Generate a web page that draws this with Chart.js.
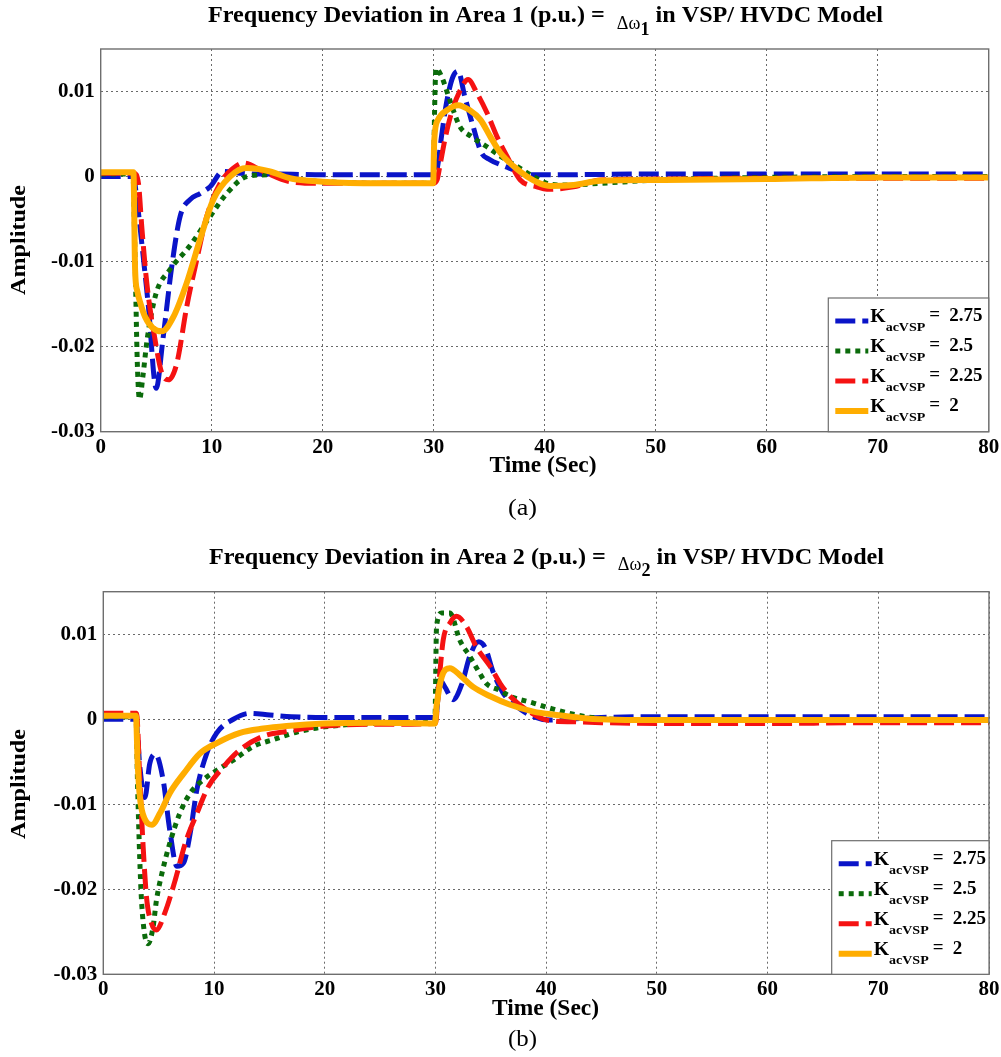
<!DOCTYPE html>
<html><head><meta charset="utf-8">
<script src="https://cdn.jsdelivr.net/npm/chart.js@4.4.1/dist/chart.umd.min.js"></script>
<style>
html,body{margin:0;padding:0;background:#fff;}
#wrap{position:relative;width:1001px;height:1057px;overflow:hidden;background:#fff;}
.box{position:absolute;left:0;width:1001px;}
</style></head><body>
<div id="wrap">
<div class="box" style="top:0;height:532px"><canvas id="chartA"></canvas></div>
<div class="box" style="top:532px;height:525px"><canvas id="chartB"></canvas></div>
</div>
<script>
// ---------------- data ----------------
const xTicks = [0, 10, 20, 30, 40, 50, 60, 70, 80];
const yTicks = [-0.03, -0.02, -0.01, 0, 0.01];
const yTickLabels = ['-0.03', '-0.02', '-0.01', '0', '0.01'];
const gainLabels = ['2.75', '2.5', '2.25', '2'];

// Area 1 (a)
const a1Time275 = [0, 2.95, 3.2, 3.54, 4.3, 5.0, 5.6, 6.4, 7.15, 8.05, 8.95, 9.85, 11.0, 12.5, 14, 16, 20, 25, 30.15, 30.4, 30.7, 31.2, 31.75, 32.2, 32.8, 33.55, 34.3, 35.05, 36, 37.2, 38.4, 40, 50, 60, 70, 80];
const a1Amp275  = [0, 0, -0.002, -0.0059, -0.0153, -0.0249, -0.0192, -0.0106, -0.0047, -0.0027, -0.002, -0.0012, 0.0006, 0.0004, 0.0003, 0.0003, 0.0002, 0.0002, 0.0002, 0.0016, 0.0047, 0.009, 0.0118, 0.0124, 0.0094, 0.0059, 0.0028, 0.002, 0.0014, 0.0008, 0.0002, 0.0002, 0.0003, 0.0003, 0.0003, 0.0003];
const a1Time25 = [0, 2.9, 3.1, 3.3, 3.5, 3.8, 4.2, 5.0, 6.2, 8.0, 9.85, 11.35, 13.15, 15, 18, 22, 26, 29.95, 30.1, 30.2, 30.7, 31.45, 32.35, 33.4, 34.8, 36, 37.5, 39, 40.5, 42, 45, 50, 55, 60, 70, 80];
const a1Amp25  = [0.0003, 0.0003, -0.01, -0.022, -0.0262, -0.0235, -0.019, -0.0137, -0.011, -0.0082, -0.0047, -0.002, 0, 0.0002, -0.0004, -0.0007, -0.0008, -0.0008, 0.009, 0.0127, 0.0118, 0.009, 0.0059, 0.0047, 0.0035, 0.0024, 0.0012, 0, -0.0009, -0.001, -0.0008, -0.0004, -0.0002, -0.0001, 0, 0];
const a1Time225 = [0, 3.0, 3.4, 3.7, 4.15, 4.9, 5.5, 6.1, 6.85, 7.75, 8.65, 9.55, 10.75, 11.95, 12.85, 14.65, 17.05, 20, 25, 29.95, 30.3, 30.55, 31.0, 31.6, 32.4, 33.1, 33.9, 34.8, 35.7, 36.6, 37.8, 39.3, 40.2, 42.6, 45, 50, 60, 70, 80];
const a1Amp225  = [0.0004, 0.0004, -0.0008, -0.0059, -0.0125, -0.0192, -0.0231, -0.0239, -0.022, -0.0153, -0.0098, -0.0047, -0.0008, 0.001, 0.0016, 0.0006, -0.0006, -0.0008, -0.0008, -0.0008, -0.0004, 0.0012, 0.0043, 0.0075, 0.0102, 0.0114, 0.0098, 0.0075, 0.0047, 0.0024, -0.0004, -0.0012, -0.0015, -0.0012, -0.0004, -0.0003, -0.0002, -0.0002, -0.0002];
const a1Time2 = [0, 2.95, 3.1, 3.3, 3.6, 4.0, 4.7, 5.5, 6.55, 7.75, 8.95, 10.15, 11.65, 13.15, 15.25, 17.05, 20, 25, 29.95, 30.05, 30.4, 31.2, 32.2, 33.25, 34.2, 35.1, 36, 37.2, 38.4, 39.55, 40.5, 42.6, 45, 50, 60, 70, 80];
const a1Amp2  = [0.0005, 0.0005, -0.011, -0.0135, -0.015, -0.0165, -0.0178, -0.0182, -0.0165, -0.0125, -0.0074, -0.0027, 0, 0.001, 0.0006, -0.0002, -0.0006, -0.0008, -0.0008, 0.0043, 0.0067, 0.0078, 0.0084, 0.0078, 0.0067, 0.0047, 0.0028, 0.0012, 0, -0.0008, -0.0011, -0.001, -0.0005, -0.0004, -0.0003, -0.0001, -0.0001];

// Area 2 (b)
const a2Time275 = [0, 2.95, 3.3, 3.75, 4.2, 4.7, 5.4, 6.0, 6.65, 7.25, 7.85, 8.45, 9.35, 10.25, 11.75, 13.25, 15.05, 17, 20, 25, 30.0, 30.1, 30.4, 30.85, 31.6, 32.4, 33.1, 33.9, 34.5, 35.2, 36.1, 37.35, 38.85, 40.35, 42, 45, 50, 60, 70, 80];
const a2Amp275  = [0, 0, -0.0056, -0.0092, -0.0052, -0.0041, -0.0071, -0.013, -0.0173, -0.0169, -0.0134, -0.0083, -0.004, -0.0016, 0, 0.0007, 0.0005, 0.0003, 0.0002, 0.0002, 0.0002, 0.0007, 0.0046, 0.0038, 0.0023, 0.0042, 0.0074, 0.0091, 0.0084, 0.0056, 0.0031, 0.0015, 0.0003, -0.0001, 0, 0.0002, 0.0003, 0.0003, 0.0003, 0.0003];
const a2Time25 = [0, 2.95, 3.1, 3.4, 3.7, 4.05, 4.5, 4.8, 5.3, 6.0, 6.9, 7.85, 9.05, 10.25, 11.75, 13.55, 15.35, 17.5, 20, 25, 29.95, 30.1, 30.57, 31.3, 32.2, 33.1, 34.0, 34.6, 35.8, 36.75, 38.85, 40.35, 42.75, 44.9, 50, 60, 70, 80];
const a2Amp25  = [0.0003, 0.0003, -0.008, -0.02, -0.025, -0.0264, -0.0244, -0.0213, -0.0181, -0.0146, -0.0111, -0.0087, -0.0071, -0.006, -0.0048, -0.0032, -0.0024, -0.0015, -0.0009, -0.0005, -0.0003, 0.0109, 0.0125, 0.0125, 0.0093, 0.0074, 0.0054, 0.0042, 0.0034, 0.0027, 0.0019, 0.0013, 0.0005, 0.0001, -0.0001, -0.0001, -0.0001, -0.0001];
const a2Time225 = [0, 3.0, 3.3, 3.6, 3.9, 4.35, 4.8, 5.55, 6.5, 7.4, 8.45, 9.5, 10.85, 12.35, 14.45, 16.25, 20, 25, 30.0, 30.3, 30.7, 31.3, 31.9, 32.8, 33.7, 34.95, 35.85, 36.75, 38.25, 40.05, 42.45, 45, 50, 60, 70, 80];
const a2Amp225  = [0.0007, 0.0007, -0.0071, -0.015, -0.0209, -0.024, -0.0248, -0.0228, -0.0189, -0.0146, -0.0111, -0.0079, -0.0056, -0.0036, -0.002, -0.0015, -0.0008, -0.0006, -0.0005, 0.004, 0.0093, 0.0113, 0.0121, 0.0109, 0.0085, 0.0062, 0.0042, 0.0027, 0.0011, -0.0001, -0.0003, -0.0004, -0.0005, -0.0005, -0.0004, -0.0004];
const a2Time2 = [0, 2.95, 3.1, 3.3, 3.77, 4.4, 5.1, 6.0, 7.25, 8.75, 10.25, 12.35, 14.45, 16.55, 20, 25, 29.95, 30.1, 30.57, 31.3, 32.2, 33.4, 34.95, 36.75, 38.85, 40.95, 43.65, 50, 60, 70, 80];
const a2Amp2  = [0.0004, 0.0004, -0.005, -0.0091, -0.0118, -0.0124, -0.0111, -0.0087, -0.0064, -0.004, -0.0028, -0.0016, -0.0011, -0.0008, -0.0005, -0.0004, -0.0005, 0.0015, 0.005, 0.006, 0.0052, 0.0038, 0.0027, 0.0017, 0.0009, 0.0005, 0.0001, -0.0001, -0.0001, -0.0001, -0.0001];

// ---------------- styling ----------------
const SERIF = '"Liberation Serif", "Times New Roman", serif';
const styles = [
  { color: '#0a14c8', width: 5, dash: [20, 7] },
  { color: '#0b6b0b', width: 5, dash: [5, 5] },
  { color: '#f51212', width: 5, dash: [20, 7] },
  { color: '#ffad00', width: 6, dash: [] }
];

function toPoints(ts, vs) { return ts.map((t, i) => ({ x: t, y: vs[i] })); }

function drawRuns(ctx, runs, x, y, targetW, align) {
  let w = 0;
  runs.forEach(r => { ctx.font = r.font; r.w = ctx.measureText(r.t).width; w += r.w; });
  const s = targetW ? targetW / w : 1;
  ctx.save();
  ctx.translate(x, y);
  ctx.scale(s, 1);
  let cx = align === 'center' ? -w / 2 : (align === 'right' ? -w : 0);
  ctx.textAlign = 'left';
  ctx.textBaseline = 'alphabetic';
  ctx.fillStyle = '#000';
  runs.forEach(r => { ctx.font = r.font; ctx.fillText(r.t, cx, r.dy || 0); cx += r.w; });
  ctx.restore();
}

function makeChart(id, spec) {
  const off = spec.canvasTop;
  const decor = {
    id: 'decor' + id,
    afterDatasetsDraw(chart) {
      const ctx = chart.ctx;
      const ca = chart.chartArea;
      ctx.save();
      ctx.strokeStyle = '#6e6e6e';
      ctx.lineWidth = 1.4;
      ctx.strokeRect(ca.left, ca.top, ca.right - ca.left, ca.bottom - ca.top);
      ctx.restore();
      const L = spec.legend;
      const lx = L.left, ly = L.top - off, lw = ca.right - L.left, lh = ca.bottom - ly;
      ctx.save();
      ctx.fillStyle = '#fff';
      ctx.fillRect(lx, ly, lw, lh);
      ctx.strokeStyle = '#6e6e6e';
      ctx.lineWidth = 1.2;
      ctx.strokeRect(lx, ly, lw, lh);
      styles.forEach((st, i) => {
        const yy = ly + 23 + 30 * i;
        ctx.save();
        ctx.strokeStyle = st.color;
        ctx.lineWidth = st.width;
        ctx.lineCap = 'butt';
        ctx.setLineDash(st.dash);
        ctx.beginPath();
        ctx.moveTo(lx + 7, yy);
        ctx.lineTo(lx + 40, yy);
        ctx.stroke();
        ctx.restore();
        drawRuns(ctx, [
          { t: 'K', font: 'bold 19px ' + SERIF },
          { t: 'acVSP', font: 'bold 13.5px ' + SERIF, dy: 9 }
        ], lx + 42, yy + 1, 55, 'left');
        drawRuns(ctx, [{ t: '=', font: 'bold 19px ' + SERIF }], lx + 101, yy - 1, 0, 'left');
        drawRuns(ctx, [{ t: gainLabels[i], font: 'bold 19px ' + SERIF }], lx + 121, yy, 0, 'left');
      });
      ctx.restore();
    },
    afterDraw(chart) {
      const ctx = chart.ctx;
      const T = spec.title;
      drawRuns(ctx, [
        { t: 'Frequency Deviation in Area ' + spec.area + ' (p.u.) =  ', font: 'bold 24px ' + SERIF },
        { t: '\u0394\u03C9', font: '18px ' + SERIF, dy: 6.5 },
        { t: spec.area, font: 'bold 18px ' + SERIF, dy: 12.5 },
        { t: ' in VSP/ HVDC Model', font: 'bold 24px ' + SERIF }
      ], T.left, T.base - off, T.width, 'left');
      ctx.save();
      ctx.translate(25, spec.ampCenter - off);
      ctx.rotate(-Math.PI / 2);
      drawRuns(ctx, [{ t: 'Amplitude', font: 'bold 21px ' + SERIF }], 0, 0, 110, 'center');
      ctx.restore();
      drawRuns(ctx, [{ t: 'Time (Sec)', font: 'bold 23px ' + SERIF }], spec.timeX, spec.timeBase - off, 107, 'center');
      drawRuns(ctx, [{ t: spec.caption, font: '23px ' + SERIF }], spec.capX, spec.capBase - off, 29, 'center');
    }
  };

  const series = spec.series;
  const datasets = series.map((s, i) => ({
    label: 'KacVSP = ' + gainLabels[i],
    data: toPoints(s[0], s[1]),
    borderColor: styles[i].color,
    backgroundColor: styles[i].color,
    borderWidth: styles[i].width,
    borderDash: styles[i].dash,
    borderCapStyle: 'butt',
    pointRadius: 0,
    fill: false,
    cubicInterpolationMode: 'monotone',
    order: 4 - i
  }));

  const P = spec.plot;
  const xAxisH = 40;
  const canvasH = spec.canvasH;
  const gridColor = 'rgba(80,80,80,0.85)';
  return new Chart(document.getElementById(id), {
    type: 'line',
    data: { datasets },
    options: {
      responsive: true,
      maintainAspectRatio: false,
      animation: false,
      events: [],
      layout: { padding: { left: 0, top: P.top - off, right: 1001 - P.right, bottom: canvasH - (P.bottom - off) - xAxisH } },
      plugins: { legend: { display: false }, tooltip: { enabled: false }, title: { display: false } },
      scales: {
        x: {
          type: 'linear', min: 0, max: 80,
          afterBuildTicks: s => { s.ticks = xTicks.map(v => ({ value: v })); },
          afterFit: s => { s.height = xAxisH; s.paddingLeft = 0; s.paddingRight = 0; },
          ticks: { color: '#000', font: { family: SERIF, size: 21, weight: 'bold' }, padding: 3, maxRotation: 0, autoSkip: false,
                   callback: v => String(v) },
          grid: { color: gridColor, lineWidth: 1, drawTicks: false },
          border: { display: false, dash: [2, 3] }
        },
        y: {
          type: 'linear', min: -0.03, max: 0.015,
          afterBuildTicks: s => { s.ticks = yTicks.map(v => ({ value: v })); },
          afterFit: s => { s.width = P.left; s.paddingTop = 0; s.paddingBottom = 0; },
          ticks: { color: '#000', font: { family: SERIF, size: 21, weight: 'bold' }, padding: 6,
                   callback: v => { const k = yTicks.indexOf(v); return k >= 0 ? yTickLabels[k] : ''; } },
          grid: { color: gridColor, lineWidth: 1, drawTicks: false },
          border: { display: false, dash: [2, 3] }
        }
      }
    },
    plugins: [decor]
  });
}

makeChart('chartA', {
  canvasTop: 0, canvasH: 532, area: '1', caption: '(a)',
  plot: { left: 100.7, top: 49, right: 988.7, bottom: 431.7 },
  legend: { left: 828.3, top: 298 },
  title: { left: 208, base: 22, width: 675 },
  ampCenter: 240, timeX: 543, timeBase: 471.5, capX: 522.5, capBase: 515,
  series: [[a1Time275, a1Amp275], [a1Time25, a1Amp25], [a1Time225, a1Amp225], [a1Time2, a1Amp2]]
});
makeChart('chartB', {
  canvasTop: 532, canvasH: 525, area: '2', caption: '(b)',
  plot: { left: 103.3, top: 591.7, right: 989, bottom: 974.3 },
  legend: { left: 831.7, top: 840.7 },
  title: { left: 209, base: 563.5, width: 675 },
  ampCenter: 784, timeX: 545.5, timeBase: 1015, capX: 522.5, capBase: 1046,
  series: [[a2Time275, a2Amp275], [a2Time25, a2Amp25], [a2Time225, a2Amp225], [a2Time2, a2Amp2]]
});
</script>
</body></html>
